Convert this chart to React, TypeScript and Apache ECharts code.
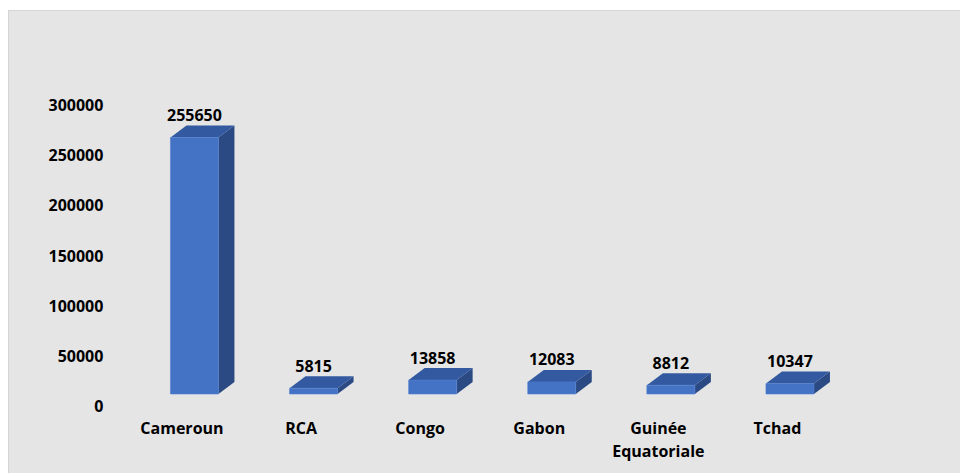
import React, { useEffect, useRef } from "react";
import * as echarts from "echarts";

// Population by country
const categories = ["Cameroun", "RCA", "Congo", "Gabon", "Guinée\nEquatoriale", "Tchad"];
const values = [255650, 5815, 13858, 12083, 8812, 10347];
const yTicks = { min: 0, max: 300000, interval: 50000 };

const FRONT = "#4472C4";
const TOP = "#3359A0";
const SIDE = "#2B4A84";
const FONT = "Open Sans";

// pseudo-3D geometry (pixels)
const FRONT_DX = 12.5; // bar front face sits behind the floor edge
const FRONT_DY = -12;
const DEPTH_DX = 16;
const DEPTH_DY = -12;
const BAR_RATIO = 0.403;

export default function App() {
  const ref = useRef<HTMLDivElement>(null);

  useEffect(() => {
    if (!ref.current) return;
    const chart = echarts.init(ref.current, undefined, { renderer: "svg" });
    chart.setOption({
      animation: false,
      grid: { left: 113.4, right: 130, top: 94, bottom: 67 },
      xAxis: {
        type: "category",
        data: categories,
        axisLine: { show: false },
        axisTick: { show: false },
        axisLabel: {
          interval: 0,
          margin: 10,
          lineHeight: 23.5,
          fontFamily: FONT,
          fontWeight: "bold",
          fontSize: 16,
          color: "#000",
        },
      },
      yAxis: {
        type: "value",
        min: yTicks.min,
        max: yTicks.max,
        interval: yTicks.interval,
        splitLine: { show: false },
        axisLine: { show: false },
        axisTick: { show: false },
        axisLabel: {
          margin: 19,
          fontFamily: FONT,
          fontWeight: "bold",
          fontSize: 16,
          color: "#000",
          formatter: (v: number) => String(v),
        },
      },
      series: [
        {
          type: "custom",
          data: values.map((v, i) => [i, v]),
          encode: { x: 0, y: 1 },
          renderItem: (_params: any, api: any) => {
            const idx = api.value(0);
            const v = api.value(1);
            const base = api.coord([idx, 0]);
            const top = api.coord([idx, v]);
            const band = api.size([1, 0])[0];
            const w = band * BAR_RATIO;
            const cx = base[0] + FRONT_DX;
            const x0 = cx - w / 2;
            const x1 = cx + w / 2;
            const yb = base[1] + FRONT_DY;
            const yt = top[1] + FRONT_DY;
            const dx = DEPTH_DX;
            const dy = DEPTH_DY;
            return {
              type: "group",
              children: [
                {
                  type: "polygon",
                  shape: { points: [[x1, yb], [x1 + dx, yb + dy], [x1 + dx, yt + dy], [x1, yt]] },
                  style: { fill: SIDE },
                },
                {
                  type: "polygon",
                  shape: { points: [[x0, yt], [x1, yt], [x1 + dx, yt + dy], [x0 + dx, yt + dy]] },
                  style: { fill: TOP },
                },
                {
                  type: "rect",
                  shape: { x: x0, y: yt, width: w, height: yb - yt },
                  style: { fill: FRONT, stroke: "#4f7fd2", lineWidth: 0.6 },
                },
                {
                  type: "text",
                  x: cx,
                  y: yt + dy - 10.5,
                  style: {
                    text: String(v),
                    align: "center",
                    verticalAlign: "middle",
                    fontFamily: FONT,
                    fontWeight: "bold",
                    fontSize: 16,
                    fill: "#000",
                  },
                },
              ],
            };
          },
        },
      ],
    });
    return () => chart.dispose();
  }, []);

  return (
    <div style={{ paddingTop: 2 }}>
      <div
        style={{
          width: 960,
          height: 464,
          background: "#e5e5e5",
          border: "1px solid #d4d4d4",
          boxSizing: "border-box",
        }}
      >
        <div ref={ref} style={{ width: 958, height: 462 }} />
      </div>
    </div>
  );
}
